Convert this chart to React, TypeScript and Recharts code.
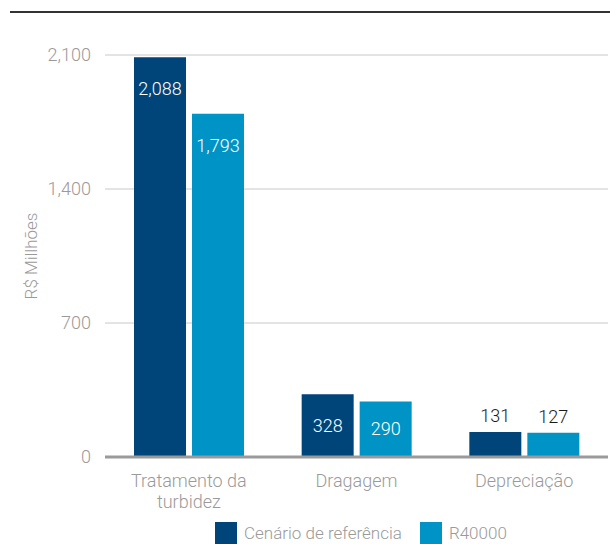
import { BarChart, Bar, XAxis, YAxis, CartesianGrid, Legend, LabelList } from 'recharts';

const categories = ['Tratamento da turbidez', 'Dragagem', 'Depreciação'];
const referencia = [2088, 328, 131];
const r40000 = [1793, 290, 127];
const yTicks = [0, 700, 1400, 2100];

const DARK = '#00457a';
const LIGHT = '#0093c6';
const GRAY = '#9a9a9a';
const FONT = "'Roboto', 'Liberation Sans', sans-serif";

const data = categories.map((name, i) => ({ name, cenario: referencia[i], r4: r40000[i] }));

const fmt = (v: number) => v.toLocaleString('en-US');

const BarValue = (props: any) => {
  const { x, y, width, height, value } = props;
  const cx = x + width / 2;
  if (height < 40) {
    return (
      <text x={cx} y={y - 10} textAnchor="middle" fill="#1a1a1a" fontSize={18} fontWeight={300} fontFamily={FONT}>
        {fmt(value)}
      </text>
    );
  }
  const ty = height > 100 ? y + 38 : y + height / 2 + 6;
  return (
    <text x={cx} y={ty} textAnchor="middle" fill="#fff" fontSize={18} fontWeight={300} fontFamily={FONT}>
      {fmt(value)}
    </text>
  );
};

const CategoryTick = ({ x, y, payload }: any) => {
  const words: string[] = payload.value === 'Tratamento da turbidez' ? ['Tratamento da', 'turbidez'] : [payload.value];
  return (
    <text x={x} y={y} textAnchor="middle" fill={GRAY} fontSize={18} fontWeight={300} fontFamily={FONT}>
      {words.map((w, i) => (
        <tspan key={i} x={x} dy={i === 0 ? 22 : 21}>{w}</tspan>
      ))}
    </text>
  );
};

const LegendContent = () => (
  <div style={{ display: 'flex', fontFamily: FONT, fontWeight: 300, fontSize: 17, color: GRAY, lineHeight: '22px' }}>
    <div style={{ display: 'flex', alignItems: 'center', marginLeft: 215 }}>
      <span style={{ width: 22, height: 22, background: DARK, display: 'inline-block', marginRight: 7 }} />
      Cenário de referência
    </div>
    <div style={{ display: 'flex', alignItems: 'center', marginLeft: 18 }}>
      <span style={{ width: 22, height: 22, background: LIGHT, display: 'inline-block', marginRight: 7 }} />
      R40000
    </div>
  </div>
);

export default function App() {
  return (
    <div style={{ position: 'absolute', left: 0, top: 0, width: 610, height: 544, background: '#fff', overflow: 'hidden' }}>
      <div style={{ position: 'absolute', left: 10, right: 0, top: 11, borderTop: '2px solid #333' }} />
      <BarChart
        width={610}
        height={544}
        data={data}
        margin={{ top: 55, right: 2, left: 0, bottom: 15 }}
        barSize={52}
        barGap={6}
      >
        <CartesianGrid vertical={false} stroke="#c8c8c8" />
        <XAxis
          dataKey="name"
          tick={<CategoryTick />}
          tickLine={false}
          axisLine={{ stroke: '#9a9a9a', strokeWidth: 3 }}
          interval={0}
          height={50}
        />
        <YAxis
          domain={[0, 2100]}
          ticks={yTicks}
          tickFormatter={fmt}
          tick={{ fill: GRAY, fontSize: 18, fontWeight: 300, fontFamily: FONT }}
          tickLine={false}
          axisLine={false}
          width={105}
          tickMargin={8}
          label={{
            value: 'R$ Millhões',
            angle: -90,
            position: 'insideLeft',
            dx: 26,
            style: { fill: GRAY, fontSize: 17, fontWeight: 300, fontFamily: FONT, textAnchor: 'middle' },
          }}
        />
        <Legend verticalAlign="bottom" wrapperStyle={{ left: 0, top: 522 }} content={<LegendContent />} />
        <Bar dataKey="cenario" name="Cenário de referência" fill={DARK} isAnimationActive={false}>
          <LabelList dataKey="cenario" content={<BarValue />} />
        </Bar>
        <Bar dataKey="r4" name="R40000" fill={LIGHT} isAnimationActive={false}>
          <LabelList dataKey="r4" content={<BarValue />} />
        </Bar>
      </BarChart>
    </div>
  );
}
